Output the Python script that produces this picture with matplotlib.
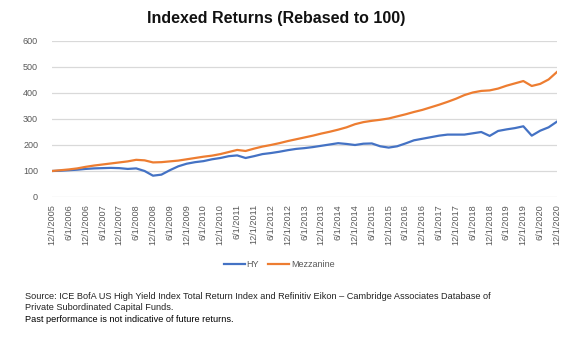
import matplotlib.pyplot as plt
import numpy as np

plt.rcParams['font.family'] = ['Liberation Sans', 'DejaVu Sans']

# quarterly dates, 12/1/2005 .. 12/1/2020
quarter_labels = []
for yr in range(2005, 2021):
    for m in (3, 6, 9, 12):
        if (yr == 2005 and m < 12):
            continue
        quarter_labels.append(f"{m}/1/{yr}")

hy = [100, 101, 103, 105, 108, 110, 111, 112, 111, 108, 110, 100, 82, 86, 103, 118,
      128, 134, 138, 145, 150, 157, 160, 150, 157, 165, 169, 174, 180, 185, 188, 192,
      197, 202, 207, 204, 200, 205, 206, 195, 190, 195, 206, 218, 224, 230, 236, 240,
      240, 240, 245, 250, 235, 254, 260, 265, 272, 236, 255, 268, 290]
mezzanine = [100, 103, 106, 110, 116, 121, 125, 129, 133, 137, 143, 141, 133, 134, 137, 140,
             145, 150, 155, 159, 165, 173, 181, 177, 186, 194, 200, 207, 215, 222, 229, 236,
             244, 251, 259, 268, 280, 288, 293, 297, 302, 310, 318, 327, 335, 345, 355, 366,
             378, 392, 402, 408, 410, 417, 428, 437, 446, 427, 435, 452, 481]

x = np.arange(len(quarter_labels))

fig = plt.figure(figsize=(5.85, 3.37), dpi=100)
ax = fig.add_axes([52/585, 140/337, 505/585, 156/337])

ax.plot(x, hy, color='#4472C4', lw=1.6, label='HY')
ax.plot(x, mezzanine, color='#ED7D31', lw=1.6, label='Mezzanine')

ax.set_xlim(0, len(x) - 1)
ax.set_ylim(0, 600)
ax.set_yticks(range(0, 601, 100))
ax.grid(axis='y', color='#d9d9d9', lw=0.9)
ax.set_axisbelow(True)
for s in ax.spines.values():
    s.set_visible(False)

ax.set_xticks(x[::2])
ax.set_xticklabels(quarter_labels[::2], rotation=90, fontsize=6.6, color='#595959')
ax.tick_params(axis='y', labelsize=6.5, labelcolor='#595959', length=0, pad=10)
ax.tick_params(axis='x', length=0, pad=5)

ax.legend(loc='upper center', bbox_to_anchor=(0.45, -0.35), ncol=2, frameon=False,
          fontsize=6.5, labelcolor='#595959', handlelength=2.3, handletextpad=0.2,
          columnspacing=1.0)

fig.text(276/585, 1 - 18/337, 'Indexed Returns (Rebased to 100)', ha='center', va='center',
         fontsize=11.5, fontweight='bold', color='#111111')

fig.text(25/585, 1 - 302/337,
         'Source: ICE BofA US High Yield Index Total Return Index and Refinitiv Eikon \u2013 '
         'Cambridge Associates Database of\nPrivate Subordinated Capital Funds.',
         ha='left', va='center', fontsize=6.6, color='#222222', linespacing=1.25)
fig.text(25/585, 1 - 320/337, 'Past performance is not indicative of future returns.',
         ha='left', va='center', fontsize=6.6, color='#000000')

fig.savefig('out.png', dpi=100, facecolor='white')
